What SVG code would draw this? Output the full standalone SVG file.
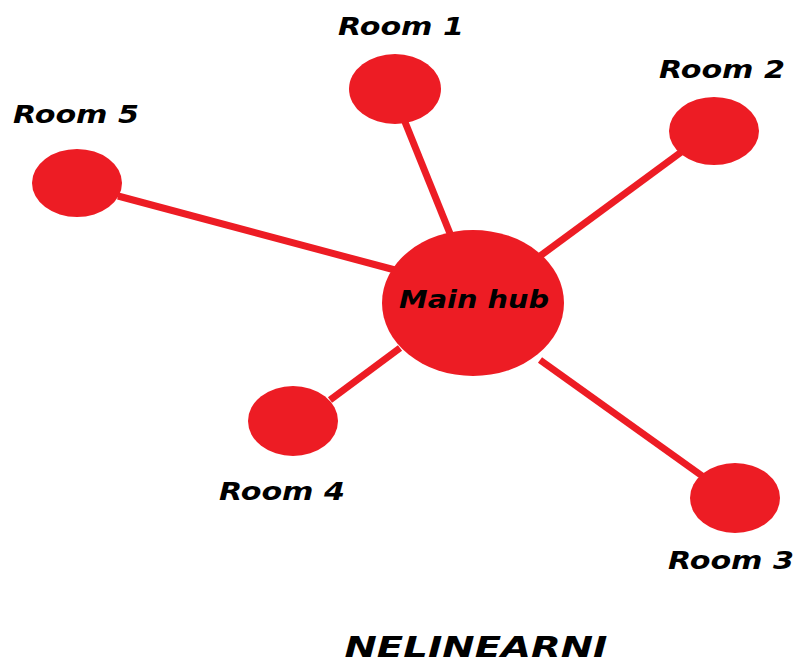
<svg xmlns="http://www.w3.org/2000/svg" width="799" height="665" viewBox="0 0 799 665">
<style>
.n{fill:#ed1c24}
.e{stroke:#ed1c24;stroke-width:7;fill:none}
.t{font-family:"DejaVu Sans","Open Sans",sans-serif;font-weight:bold;font-style:italic;fill:#000}
.l{font-size:24px}
</style>
<rect width="799" height="665" fill="#fff"/>
<g id="connectors">
<line class="e" x1="405" y1="122" x2="451" y2="236"/>
<line class="e" x1="684" y1="150" x2="540" y2="256"/>
<line class="e" x1="118" y1="196" x2="395" y2="270"/>
<line class="e" x1="330" y1="400" x2="400" y2="348"/>
<line class="e" x1="540" y1="360" x2="705" y2="478"/>
</g>
<g id="hub"><ellipse class="n" cx="473" cy="303" rx="91" ry="73"/><text class="t" x="474" y="308" text-anchor="middle" font-size="24" textLength="150" lengthAdjust="spacingAndGlyphs">Main hub</text></g>
<g id="room1"><ellipse class="n" cx="395" cy="89" rx="46" ry="35"/><text class="t l" x="401" y="35" text-anchor="middle" textLength="126" lengthAdjust="spacingAndGlyphs">Room 1</text></g>
<g id="room2"><ellipse class="n" cx="714" cy="131" rx="45" ry="34"/><text class="t l" x="722" y="78" text-anchor="middle" textLength="126" lengthAdjust="spacingAndGlyphs">Room 2</text></g>
<g id="room5"><ellipse class="n" cx="77" cy="183" rx="45" ry="34"/><text class="t l" x="76" y="123" text-anchor="middle" textLength="126" lengthAdjust="spacingAndGlyphs">Room 5</text></g>
<g id="room4"><ellipse class="n" cx="293" cy="421" rx="45" ry="35"/><text class="t l" x="282" y="500" text-anchor="middle" textLength="126" lengthAdjust="spacingAndGlyphs">Room 4</text></g>
<g id="room3"><ellipse class="n" cx="735" cy="498" rx="45" ry="35"/><text class="t l" x="731" y="569" text-anchor="middle" textLength="126" lengthAdjust="spacingAndGlyphs">Room 3</text></g>
<text class="t" x="476" y="657" text-anchor="middle" font-size="28" textLength="263" lengthAdjust="spacingAndGlyphs">NELINEARNI</text>
</svg>
